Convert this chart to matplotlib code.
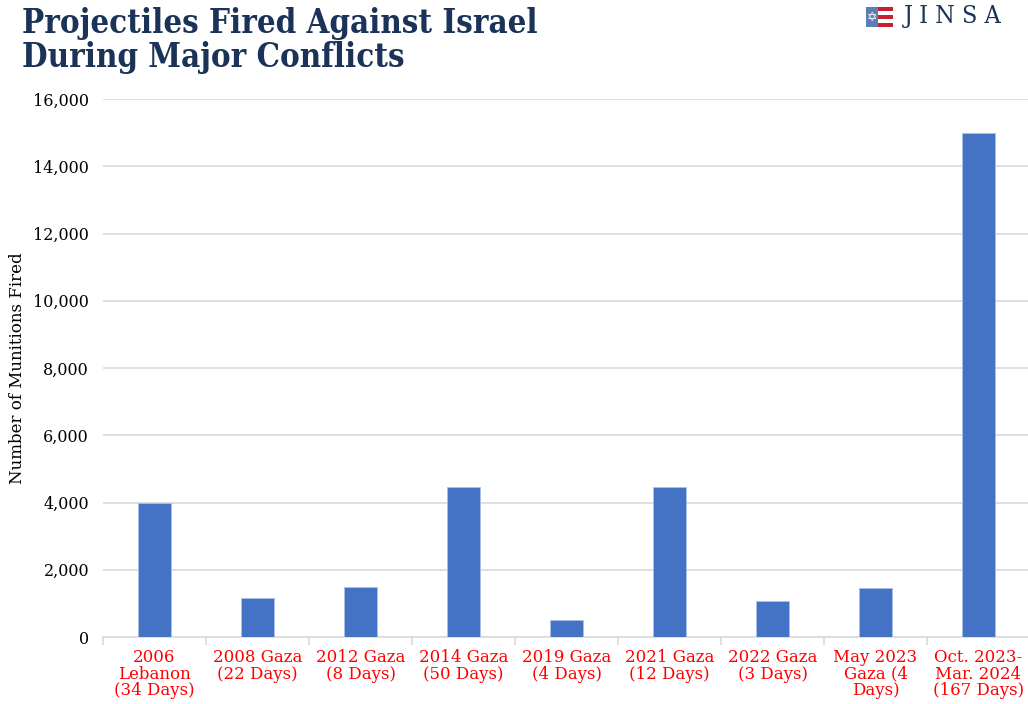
import matplotlib.pyplot as plt
import numpy as np
from matplotlib.patches import Rectangle

conflicts = ["2006\nLebanon\n(34 Days)", "2008 Gaza\n(22 Days)", "2012 Gaza\n(8 Days)",
             "2014 Gaza\n(50 Days)", "2019 Gaza\n(4 Days)", "2021 Gaza\n(12 Days)",
             "2022 Gaza\n(3 Days)", "May 2023\nGaza (4\nDays)", "Oct. 2023-\nMar. 2024\n(167 Days)"]
munitions = [4000, 1160, 1490, 4460, 510, 4460, 1080, 1450, 15000]
yticks = [0, 2000, 4000, 6000, 8000, 10000, 12000, 14000, 16000]

NAVY = "#1b3359"
BAR = "#4472c4"
SERIF = ["DejaVu Serif"]

fig = plt.figure(figsize=(10.28, 7.04), dpi=100)
ax = fig.add_axes([103 / 1028, 1 - 637 / 704, 927 / 1028, 538 / 704])

x = np.arange(len(conflicts))
ax.bar(x, munitions, width=0.32, color=BAR, edgecolor="#a9c0e8", linewidth=0.6, zorder=3)

ax.set_xlim(-0.5, len(conflicts) - 0.5)
ax.set_ylim(0, 16000)
ax.set_yticks(yticks)
ax.set_yticklabels([f"{v:,}" for v in yticks], fontsize=11.5, family=SERIF)
ax.yaxis.grid(True, color="#d9d9d9", linewidth=1.2, zorder=0)
ax.tick_params(axis="y", length=0, pad=10)

# category labels centred, ticks on the boundaries
ax.set_xticks(x)
ax.set_xticklabels(conflicts, fontsize=12, family=SERIF, color="#ff0000", linespacing=0.95)
ax.tick_params(axis="x", which="major", length=0, pad=9)
ax.set_xticks(np.arange(len(conflicts) + 1) - 0.5, minor=True)
ax.tick_params(axis="x", which="minor", length=6, color="#d9d9d9", width=1.2)

for s in ["top", "right", "left"]:
    ax.spines[s].set_visible(False)
ax.spines["bottom"].set_color("#d9d9d9")
ax.spines["bottom"].set_linewidth(1.2)

ax.set_ylabel("Number of Munitions Fired", fontsize=12, family=SERIF)
ax.yaxis.set_label_coords(-0.083, 0.5)

fig.text(22 / 1028, 1 - 7 / 704, "Projectiles Fired Against Israel\nDuring Major Conflicts",
         fontsize=23.7, fontweight="bold", family=SERIF, color=NAVY, va="top", ha="left",
         linespacing=1.05, fontstretch="condensed")

# JINSA logo: small flag + wordmark
fx, fy, fw, fh = 866 / 1028, 1 - 27 / 704, 27 / 1028, 20 / 704
for i in range(5):
    c = "#c8202f" if i % 2 == 0 else "white"
    fig.patches.append(Rectangle((fx, fy + i * fh / 5), fw, fh / 5, transform=fig.transFigure,
                                 facecolor=c, edgecolor="none"))
fig.patches.append(Rectangle((fx, fy), fw * 0.45, fh, transform=fig.transFigure,
                             facecolor="#5b7fb5", edgecolor="none"))
fig.text(fx + fw * 0.225, fy + fh * 0.5, "\u2721", fontsize=9, color="white", ha="center",
         va="center", family=["DejaVu Sans"])
fig.text(904 / 1028, 1 - 17 / 704, "J I N S A", fontsize=18, family=SERIF, color=NAVY,
         ha="left", va="center", fontstretch="condensed")

fig.savefig("out.png", dpi=100)
